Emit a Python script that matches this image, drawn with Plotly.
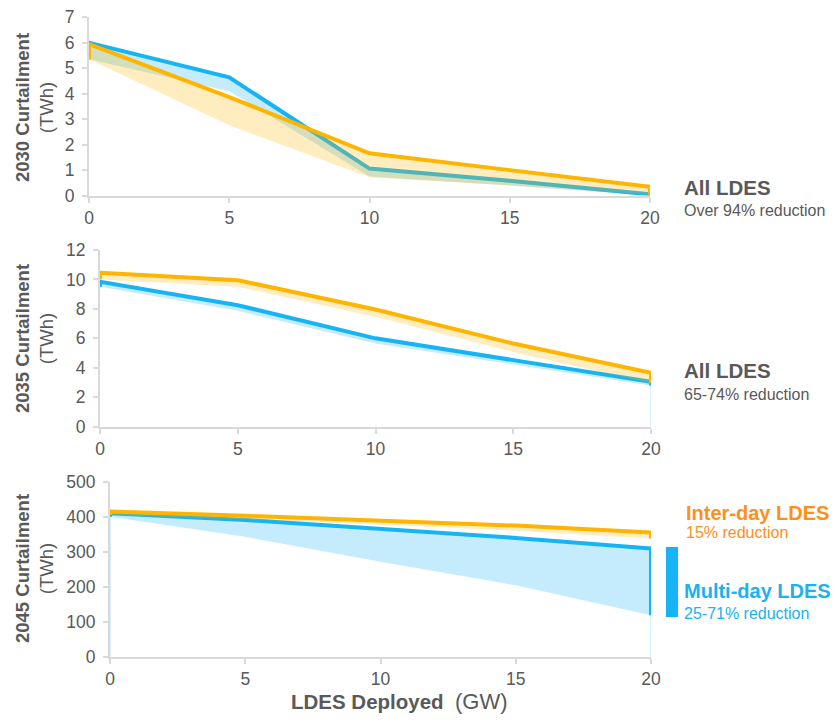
import plotly.graph_objects as go

# LDES deployed (GW)
ldes_gw = [0, 5, 10, 15, 20]

# 2030 curtailment (TWh): central line and lower bound of the range
c2030_multi = [6.0, 4.64, 1.06, 0.58, 0.05]
c2030_multi_low = [5.35, 4.1, 0.75, 0.4, 0.0]
c2030_inter = [5.95, 3.87, 1.66, 1.0, 0.35]
c2030_inter_low = [5.35, 2.76, 0.72, 0.4, 0.03]

# 2035 curtailment (TWh)
c2035_multi = [9.85, 8.25, 6.0, 4.52, 3.05]
c2035_multi_low = [9.5, 7.87, 5.65, 4.25, 2.8]
c2035_inter = [10.45, 9.95, 7.96, 5.65, 3.66]
c2035_inter_low = [10.0, 9.5, 7.46, 5.08, 2.96]

# 2045 curtailment (TWh)
c2045_multi = [410, 391, 365, 340, 310]
c2045_multi_low = [400, 343, 272, 205, 120]
c2045_inter = [415, 403, 390, 375, 355]
c2045_inter_low = [405, 393, 378, 360, 338]

y_ticks_2030 = [0, 1, 2, 3, 4, 5, 6, 7]
y_ticks_2035 = [0, 2, 4, 6, 8, 10, 12]
y_ticks_2045 = [0, 100, 200, 300, 400, 500]
x_ticks = [0, 5, 10, 15, 20]

W, H = 836, 723
BLUE = "#17B4F5"
BLUE_FILL = "rgba(23,180,245,0.25)"
BLUE_EDGE = "#BFE7F8"
ORANGE = "#FFB400"
ORANGE_FILL = "rgba(255,180,0,0.25)"
GRAY = "#595959"
AXIS = "#D9D9D9"
FONT = "Liberation Sans, Arial, sans-serif"


def px(x):
    return x / W


def py(y):
    return 1 - y / H


fig = go.Figure()

panels = [
    ("x", "y", c2030_multi, c2030_multi_low, c2030_inter, c2030_inter_low, False, False),
    ("x2", "y2", c2035_multi, c2035_multi_low, c2035_inter, c2035_inter_low, True, False),
    ("x3", "y3", c2045_multi, c2045_multi_low, c2045_inter, c2045_inter_low, True, True),
]

for xa, ya, multi, multi_low, inter, inter_low, edge_end, edge_start in panels:
    xs = list(ldes_gw)
    # thin edges of the multi-day range down to the axis
    if edge_start:
        fig.add_trace(go.Scatter(x=[xs[0], xs[0]], y=[0, multi_low[0]], mode="lines",
                                 line=dict(color=BLUE_EDGE, width=1.2),
                                 xaxis=xa, yaxis=ya, hoverinfo="skip"))
    if edge_end:
        fig.add_trace(go.Scatter(x=[xs[-1], xs[-1]], y=[0, multi_low[-1]], mode="lines",
                                 line=dict(color=BLUE_EDGE, width=1.2),
                                 xaxis=xa, yaxis=ya, hoverinfo="skip"))
    # multi-day range band
    fig.add_trace(go.Scatter(x=xs + xs[::-1], y=multi + multi_low[::-1], mode="lines",
                             fill="toself", fillcolor=BLUE_FILL, line=dict(width=0),
                             xaxis=xa, yaxis=ya, hoverinfo="skip"))
    # multi-day line, closed down to the lower bound at both ends
    fig.add_trace(go.Scatter(x=[xs[0]] + xs + [xs[-1]],
                             y=[multi_low[0]] + multi + [multi_low[-1]], mode="lines",
                             line=dict(color=BLUE, width=4), xaxis=xa, yaxis=ya))
    # inter-day range band
    fig.add_trace(go.Scatter(x=xs + xs[::-1], y=inter + inter_low[::-1], mode="lines",
                             fill="toself", fillcolor=ORANGE_FILL, line=dict(width=0),
                             xaxis=xa, yaxis=ya, hoverinfo="skip"))
    # inter-day line
    fig.add_trace(go.Scatter(x=[xs[0]] + xs + [xs[-1]],
                             y=[inter_low[0]] + inter + [inter_low[-1]], mode="lines",
                             line=dict(color=ORANGE, width=4), xaxis=xa, yaxis=ya))

tick_font = dict(family=FONT, size=17.5, color=GRAY)


def xaxis(domain, anchor):
    return dict(domain=domain, anchor=anchor, range=[0, 20], tickvals=x_ticks,
                showline=True, linecolor=AXIS, linewidth=2, ticks="outside",
                ticklen=5, tickwidth=2, tickcolor=AXIS, showgrid=False,
                zeroline=False, tickfont=tick_font, fixedrange=True,
                automargin=False)


def yaxis(domain, anchor, rng, vals):
    return dict(domain=domain, anchor=anchor, range=rng, tickvals=vals,
                showline=True, linecolor=AXIS, linewidth=2, ticks="outside",
                ticklen=5, tickwidth=2, tickcolor=AXIS, showgrid=False,
                zeroline=False, tickfont=tick_font, fixedrange=True,
                automargin=False, ticklabelstandoff=4)


fig.update_layout(
    width=W, height=H, margin=dict(l=0, r=0, t=0, b=0, pad=0, autoexpand=False),
    paper_bgcolor="white", plot_bgcolor="white", showlegend=False,
    font=dict(family=FONT, color=GRAY),
    xaxis=xaxis([px(89), px(650)], "y"),
    yaxis=yaxis([py(195.6), py(17.3)], "x", [0, 7], y_ticks_2030),
    xaxis2=xaxis([px(100), px(651)], "y2"),
    yaxis2=yaxis([py(426.7), py(250)], "x2", [0, 12], y_ticks_2035),
    xaxis3=xaxis([px(110), px(651)], "y3"),
    yaxis3=yaxis([py(657.3), py(481.7)], "x3", [0, 500], y_ticks_2045),
)

annotations = []


def note(text, x, y, size, color=GRAY, xanchor="left", angle=0):
    annotations.append(dict(text=text, x=px(x), y=py(y), xref="paper", yref="paper",
                            xanchor=xanchor, yanchor="middle", showarrow=False,
                            textangle=angle, align="center",
                            font=dict(family=FONT, size=size, color=color)))


# panel notes
note("<b>All LDES</b>", 682, 188, 20.5)
note("Over 94% reduction", 682, 210, 16)
note("<b>All LDES</b>", 682, 371, 20.5)
note("65-74% reduction", 682, 395, 16)
note("<b>Inter-day LDES</b>", 684, 512.5, 20, color="#FF8F1A")
note("15% reduction", 684, 532, 16, color="#FF8F1A")
note("<b>Multi-day LDES</b>", 682, 591, 20, color="#1AB2F0")
note("25-71% reduction", 682, 613, 16, color="#1AB2F0")

# axis titles
note("<b>LDES Deployed</b>  <span style='font-size:22px'>(GW)</span>", 399, 701.5, 20.5,
     xanchor="center")
note("<b>2030 Curtailment</b><br>(TWh)", 34, 108, 18.5, xanchor="center", angle=-90)
note("<b>2035 Curtailment</b><br>(TWh)", 34, 339, 18.5, xanchor="center", angle=-90)
note("<b>2045 Curtailment</b><br>(TWh)", 34, 569, 18.5, xanchor="center", angle=-90)

fig.update_layout(annotations=annotations)

# multi-day range marker beside the 2045 notes
fig.add_shape(type="rect", xref="paper", yref="paper",
              x0=px(666), x1=px(678), y0=py(617), y1=py(547),
              fillcolor=BLUE, line=dict(width=0))

fig.write_html("out.html")
